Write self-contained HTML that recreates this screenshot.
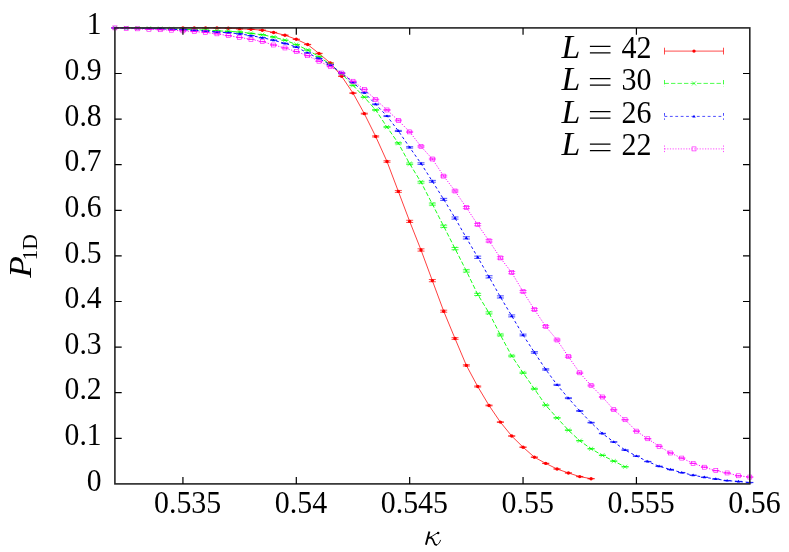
<!DOCTYPE html>
<html><head><meta charset="utf-8"><title>P1D vs kappa</title>
<style>
html,body{margin:0;padding:0;background:#fff;}
body{width:789px;height:552px;overflow:hidden;}
svg{display:block;will-change:transform;}
text{font-family:"Liberation Serif",serif;fill:#000;}
</style></head><body>
<svg width="789" height="552" viewBox="0 0 789 552">
<rect x="0" y="0" width="789" height="552" fill="#fff"/>

<text x="101.6" y="490.50" font-size="31" text-anchor="end" textLength="14.8" lengthAdjust="spacingAndGlyphs">0</text>
<text x="101.6" y="444.90" font-size="31" text-anchor="end" textLength="37.0" lengthAdjust="spacingAndGlyphs">0.1</text>
<text x="101.6" y="399.30" font-size="31" text-anchor="end" textLength="37.0" lengthAdjust="spacingAndGlyphs">0.2</text>
<text x="101.6" y="353.70" font-size="31" text-anchor="end" textLength="37.0" lengthAdjust="spacingAndGlyphs">0.3</text>
<text x="101.6" y="308.10" font-size="31" text-anchor="end" textLength="37.0" lengthAdjust="spacingAndGlyphs">0.4</text>
<text x="101.6" y="262.50" font-size="31" text-anchor="end" textLength="37.0" lengthAdjust="spacingAndGlyphs">0.5</text>
<text x="101.6" y="216.90" font-size="31" text-anchor="end" textLength="37.0" lengthAdjust="spacingAndGlyphs">0.6</text>
<text x="101.6" y="171.30" font-size="31" text-anchor="end" textLength="37.0" lengthAdjust="spacingAndGlyphs">0.7</text>
<text x="101.6" y="125.70" font-size="31" text-anchor="end" textLength="37.0" lengthAdjust="spacingAndGlyphs">0.8</text>
<text x="101.6" y="80.10" font-size="31" text-anchor="end" textLength="37.0" lengthAdjust="spacingAndGlyphs">0.9</text>
<text x="101.6" y="33.70" font-size="31" text-anchor="end" textLength="14.8" lengthAdjust="spacingAndGlyphs">1</text>
<text x="187.62" y="512.95" font-size="31" text-anchor="middle" textLength="67.2" lengthAdjust="spacingAndGlyphs">0.535</text>
<text x="301.00" y="512.95" font-size="31" text-anchor="middle" textLength="52.4" lengthAdjust="spacingAndGlyphs">0.54</text>
<text x="414.37" y="512.95" font-size="31" text-anchor="middle" textLength="67.2" lengthAdjust="spacingAndGlyphs">0.545</text>
<text x="527.75" y="512.95" font-size="31" text-anchor="middle" textLength="52.4" lengthAdjust="spacingAndGlyphs">0.55</text>
<text x="641.12" y="512.95" font-size="31" text-anchor="middle" textLength="67.2" lengthAdjust="spacingAndGlyphs">0.555</text>
<text x="754.50" y="512.95" font-size="31" text-anchor="middle" textLength="52.4" lengthAdjust="spacingAndGlyphs">0.56</text>
<g fill="none" stroke="#000" stroke-linecap="round" stroke-linejoin="round"><path d="M429.4 531.5L425.9 544.7" stroke-width="1.9" stroke-linecap="butt"/><path d="M427.9 538.7C431 537.3 434.2 534.6 437.4 532.9" stroke-width="0.9"/><path d="M429.3 537.7C432.4 537.4 433.2 539.6 433.9 542.2C434.4 544.0 435.0 544.9 436.2 545.0" stroke-width="1.7"/><path d="M436.2 545.0C438.2 545.0 439.7 542.8 440.5 540.3" stroke-width="0.9"/></g><circle cx="438.2" cy="532.9" r="1.25" fill="#000"/>
<g transform="translate(31.1,277.8) rotate(-90)"><text x="0" y="0" font-size="32" font-style="italic" transform="scale(1.11,1)">P</text><text x="17.3" y="5.7" font-size="21.6">1D</text></g>
<text x="561.6" y="57.60" font-size="33.8" font-style="italic">L</text>
<path d="M589.9 46.40H610.5M589.9 52.90H610.5" stroke="#000" stroke-width="1.3" fill="none"/>
<text x="621.6" y="57.60" font-size="31" textLength="30" lengthAdjust="spacingAndGlyphs">42</text>
<path d="M664.5 51.1H723.5M664.5 47.7v6.8M723.5 47.7v6.8" stroke="#ff0000" stroke-width="0.7" fill="none"/>
<circle cx="694.00" cy="51.10" r="1.7" fill="#ff0000"/>
<text x="561.6" y="89.90" font-size="33.8" font-style="italic">L</text>
<path d="M589.9 78.70H610.5M589.9 85.20H610.5" stroke="#000" stroke-width="1.3" fill="none"/>
<text x="621.6" y="89.90" font-size="31" textLength="30" lengthAdjust="spacingAndGlyphs">30</text>
<path d="M664.5 83.4H723.5M664.5 80.0v6.8M723.5 80.0v6.8" stroke="#00ff00" stroke-width="0.7" fill="none" stroke-dasharray="4.4 2.1"/>
<path d="M691.90 81.30L696.10 85.50M691.90 85.50L696.10 81.30" stroke="#00ff00" stroke-width="0.6" fill="none"/>
<text x="561.6" y="122.90" font-size="33.8" font-style="italic">L</text>
<path d="M589.9 111.70H610.5M589.9 118.20H610.5" stroke="#000" stroke-width="1.3" fill="none"/>
<text x="621.6" y="122.90" font-size="31" textLength="30" lengthAdjust="spacingAndGlyphs">26</text>
<path d="M664.5 116.4H723.5M664.5 113.0v6.8M723.5 113.0v6.8" stroke="#0000ff" stroke-width="0.7" fill="none" stroke-dasharray="2.8 2.6"/>
<path d="M694.00 114.70L695.70 117.40L692.30 117.40Z" fill="#0000ff"/>
<text x="561.6" y="155.40" font-size="33.8" font-style="italic">L</text>
<path d="M589.9 144.20H610.5M589.9 150.70H610.5" stroke="#000" stroke-width="1.3" fill="none"/>
<text x="621.6" y="155.40" font-size="31" textLength="30" lengthAdjust="spacingAndGlyphs">22</text>
<path d="M664.5 148.9H723.5M664.5 145.5v6.8M723.5 145.5v6.8" stroke="#ff00ff" stroke-width="0.7" fill="none" stroke-dasharray="1.2 1.5"/>
<rect x="692.00" y="146.90" width="4.0" height="4.0" fill="none" stroke="#ff00ff" stroke-width="0.6"/>
<polyline points="182.93,27.90 194.26,27.90 205.60,27.90 216.94,27.90 228.28,28.22 239.61,28.81 250.95,29.27 262.29,30.18 273.62,32.46 284.96,35.20 296.30,39.30 307.64,44.54 318.98,53.44 330.31,63.01 341.65,76.24 352.99,93.11 364.32,113.63 375.66,136.43 387.00,161.51 398.34,191.42 409.67,221.38 421.01,249.97 432.35,280.62 443.69,311.21 455.02,338.53 466.36,365.39 477.70,386.50 489.04,405.47 500.38,422.11 511.71,436.02 523.05,447.19 534.39,457.18 545.73,463.38 557.06,468.99 568.40,472.96 579.74,476.60 591.08,478.70" fill="none" stroke="#ff0000" stroke-width="0.75"/>
<path d="M182.93 27.75L182.93 28.05M179.43 27.75L186.43 27.75M179.43 28.05L186.43 28.05" stroke="#ff0000" stroke-width="0.7" fill="none"/>
<circle cx="182.93" cy="27.90" r="1.7" fill="#ff0000"/>
<path d="M194.26 27.75L194.26 28.05M190.76 27.75L197.76 27.75M190.76 28.05L197.76 28.05" stroke="#ff0000" stroke-width="0.7" fill="none"/>
<circle cx="194.26" cy="27.90" r="1.7" fill="#ff0000"/>
<path d="M205.60 27.75L205.60 28.05M202.10 27.75L209.10 27.75M202.10 28.05L209.10 28.05" stroke="#ff0000" stroke-width="0.7" fill="none"/>
<circle cx="205.60" cy="27.90" r="1.7" fill="#ff0000"/>
<path d="M216.94 27.75L216.94 28.05M213.44 27.75L220.44 27.75M213.44 28.05L220.44 28.05" stroke="#ff0000" stroke-width="0.7" fill="none"/>
<circle cx="216.94" cy="27.90" r="1.7" fill="#ff0000"/>
<path d="M228.28 28.07L228.28 28.37M224.78 28.07L231.78 28.07M224.78 28.37L231.78 28.37" stroke="#ff0000" stroke-width="0.7" fill="none"/>
<circle cx="228.28" cy="28.22" r="1.7" fill="#ff0000"/>
<path d="M239.61 28.66L239.61 28.96M236.11 28.66L243.11 28.66M236.11 28.96L243.11 28.96" stroke="#ff0000" stroke-width="0.7" fill="none"/>
<circle cx="239.61" cy="28.81" r="1.7" fill="#ff0000"/>
<path d="M250.95 29.12L250.95 29.42M247.45 29.12L254.45 29.12M247.45 29.42L254.45 29.42" stroke="#ff0000" stroke-width="0.7" fill="none"/>
<circle cx="250.95" cy="29.27" r="1.7" fill="#ff0000"/>
<path d="M262.29 30.03L262.29 30.33M258.79 30.03L265.79 30.03M258.79 30.33L265.79 30.33" stroke="#ff0000" stroke-width="0.7" fill="none"/>
<circle cx="262.29" cy="30.18" r="1.7" fill="#ff0000"/>
<path d="M273.62 32.31L273.62 32.61M270.12 32.31L277.12 32.31M270.12 32.61L277.12 32.61" stroke="#ff0000" stroke-width="0.7" fill="none"/>
<circle cx="273.62" cy="32.46" r="1.7" fill="#ff0000"/>
<path d="M284.96 35.05L284.96 35.35M281.46 35.05L288.46 35.05M281.46 35.35L288.46 35.35" stroke="#ff0000" stroke-width="0.7" fill="none"/>
<circle cx="284.96" cy="35.20" r="1.7" fill="#ff0000"/>
<path d="M296.30 39.15L296.30 39.45M292.80 39.15L299.80 39.15M292.80 39.45L299.80 39.45" stroke="#ff0000" stroke-width="0.7" fill="none"/>
<circle cx="296.30" cy="39.30" r="1.7" fill="#ff0000"/>
<path d="M307.64 44.39L307.64 44.70M304.14 44.39L311.14 44.39M304.14 44.70L311.14 44.70" stroke="#ff0000" stroke-width="0.7" fill="none"/>
<circle cx="307.64" cy="44.54" r="1.7" fill="#ff0000"/>
<path d="M318.98 53.27L318.98 53.61M315.48 53.27L322.48 53.27M315.48 53.61L322.48 53.61" stroke="#ff0000" stroke-width="0.7" fill="none"/>
<circle cx="318.98" cy="53.44" r="1.7" fill="#ff0000"/>
<path d="M330.31 62.82L330.31 63.21M326.81 62.82L333.81 62.82M326.81 63.21L333.81 63.21" stroke="#ff0000" stroke-width="0.7" fill="none"/>
<circle cx="330.31" cy="63.01" r="1.7" fill="#ff0000"/>
<path d="M341.65 76.00L341.65 76.47M338.15 76.00L345.15 76.00M338.15 76.47L345.15 76.47" stroke="#ff0000" stroke-width="0.7" fill="none"/>
<circle cx="341.65" cy="76.24" r="1.7" fill="#ff0000"/>
<path d="M352.99 92.79L352.99 93.43M349.49 92.79L356.49 92.79M349.49 93.43L356.49 93.43" stroke="#ff0000" stroke-width="0.7" fill="none"/>
<circle cx="352.99" cy="93.11" r="1.7" fill="#ff0000"/>
<path d="M364.32 113.19L364.32 114.07M360.82 113.19L367.82 113.19M360.82 114.07L367.82 114.07" stroke="#ff0000" stroke-width="0.7" fill="none"/>
<circle cx="364.32" cy="113.63" r="1.7" fill="#ff0000"/>
<path d="M375.66 135.83L375.66 137.03M372.16 135.83L379.16 135.83M372.16 137.03L379.16 137.03" stroke="#ff0000" stroke-width="0.7" fill="none"/>
<circle cx="375.66" cy="136.43" r="1.7" fill="#ff0000"/>
<path d="M387.00 160.73L387.00 162.28M383.50 160.73L390.50 160.73M383.50 162.28L390.50 162.28" stroke="#ff0000" stroke-width="0.7" fill="none"/>
<circle cx="387.00" cy="161.51" r="1.7" fill="#ff0000"/>
<path d="M398.34 190.46L398.34 192.38M394.84 190.46L401.84 190.46M394.84 192.38L401.84 192.38" stroke="#ff0000" stroke-width="0.7" fill="none"/>
<circle cx="398.34" cy="191.42" r="1.7" fill="#ff0000"/>
<path d="M409.67 220.29L409.67 222.47M406.17 220.29L413.17 220.29M406.17 222.47L413.17 222.47" stroke="#ff0000" stroke-width="0.7" fill="none"/>
<circle cx="409.67" cy="221.38" r="1.7" fill="#ff0000"/>
<path d="M421.01 248.82L421.01 251.12M417.51 248.82L424.51 248.82M417.51 251.12L424.51 251.12" stroke="#ff0000" stroke-width="0.7" fill="none"/>
<circle cx="421.01" cy="249.97" r="1.7" fill="#ff0000"/>
<path d="M432.35 279.49L432.35 281.74M428.85 279.49L435.85 279.49M428.85 281.74L435.85 281.74" stroke="#ff0000" stroke-width="0.7" fill="none"/>
<circle cx="432.35" cy="280.62" r="1.7" fill="#ff0000"/>
<path d="M443.69 310.20L443.69 312.22M440.19 310.20L447.19 310.20M440.19 312.22L447.19 312.22" stroke="#ff0000" stroke-width="0.7" fill="none"/>
<circle cx="443.69" cy="311.21" r="1.7" fill="#ff0000"/>
<path d="M455.02 337.67L455.02 339.38M451.52 337.67L458.52 337.67M451.52 339.38L458.52 339.38" stroke="#ff0000" stroke-width="0.7" fill="none"/>
<circle cx="455.02" cy="338.53" r="1.7" fill="#ff0000"/>
<path d="M466.36 364.72L466.36 366.05M462.86 364.72L469.86 364.72M462.86 366.05L469.86 366.05" stroke="#ff0000" stroke-width="0.7" fill="none"/>
<circle cx="466.36" cy="365.39" r="1.7" fill="#ff0000"/>
<path d="M477.70 385.98L477.70 387.02M474.20 385.98L481.20 385.98M474.20 387.02L481.20 387.02" stroke="#ff0000" stroke-width="0.7" fill="none"/>
<circle cx="477.70" cy="386.50" r="1.7" fill="#ff0000"/>
<path d="M489.04 405.07L489.04 405.86M485.54 405.07L492.54 405.07M485.54 405.86L492.54 405.86" stroke="#ff0000" stroke-width="0.7" fill="none"/>
<circle cx="489.04" cy="405.47" r="1.7" fill="#ff0000"/>
<path d="M500.38 421.81L500.38 422.41M496.88 421.81L503.88 421.81M496.88 422.41L503.88 422.41" stroke="#ff0000" stroke-width="0.7" fill="none"/>
<circle cx="500.38" cy="422.11" r="1.7" fill="#ff0000"/>
<path d="M511.71 435.78L511.71 436.26M508.21 435.78L515.21 435.78M508.21 436.26L515.21 436.26" stroke="#ff0000" stroke-width="0.7" fill="none"/>
<circle cx="511.71" cy="436.02" r="1.7" fill="#ff0000"/>
<path d="M523.05 446.99L523.05 447.39M519.55 446.99L526.55 446.99M519.55 447.39L526.55 447.39" stroke="#ff0000" stroke-width="0.7" fill="none"/>
<circle cx="523.05" cy="447.19" r="1.7" fill="#ff0000"/>
<path d="M534.39 457.01L534.39 457.35M530.89 457.01L537.89 457.01M530.89 457.35L537.89 457.35" stroke="#ff0000" stroke-width="0.7" fill="none"/>
<circle cx="534.39" cy="457.18" r="1.7" fill="#ff0000"/>
<path d="M545.73 463.22L545.73 463.54M542.23 463.22L549.23 463.22M542.23 463.54L549.23 463.54" stroke="#ff0000" stroke-width="0.7" fill="none"/>
<circle cx="545.73" cy="463.38" r="1.7" fill="#ff0000"/>
<path d="M557.06 468.83L557.06 469.14M553.56 468.83L560.56 468.83M553.56 469.14L560.56 469.14" stroke="#ff0000" stroke-width="0.7" fill="none"/>
<circle cx="557.06" cy="468.99" r="1.7" fill="#ff0000"/>
<path d="M568.40 472.80L568.40 473.11M564.90 472.80L571.90 472.80M564.90 473.11L571.90 473.11" stroke="#ff0000" stroke-width="0.7" fill="none"/>
<circle cx="568.40" cy="472.96" r="1.7" fill="#ff0000"/>
<path d="M579.74 476.45L579.74 476.75M576.24 476.45L583.24 476.45M576.24 476.75L583.24 476.75" stroke="#ff0000" stroke-width="0.7" fill="none"/>
<circle cx="579.74" cy="476.60" r="1.7" fill="#ff0000"/>
<path d="M591.08 478.55L591.08 478.85M587.58 478.55L594.58 478.55M587.58 478.85L594.58 478.85" stroke="#ff0000" stroke-width="0.7" fill="none"/>
<circle cx="591.08" cy="478.70" r="1.7" fill="#ff0000"/>
<polyline points="114.90,27.90 126.24,27.99 137.58,28.13 148.91,28.36 160.25,28.58 171.59,28.81 182.93,29.27 194.26,29.72 205.60,30.18 216.94,30.82 228.28,31.32 239.61,32.00 250.95,33.37 262.29,34.74 273.62,37.02 284.96,40.21 296.30,44.54 307.64,50.02 318.98,56.63 330.31,64.38 341.65,73.73 352.99,85.36 364.32,97.21 375.66,109.98 387.00,127.08 398.34,143.27 409.67,163.79 421.01,182.21 432.35,204.10 443.69,226.26 455.02,248.60 466.36,270.95 477.70,294.43 489.04,312.90 500.38,334.97 511.71,355.99 523.05,372.82 534.39,388.87 545.73,405.24 557.06,417.87 568.40,430.18 579.74,440.72 591.08,448.79 602.41,455.31 613.75,461.10 625.09,466.80" fill="none" stroke="#00ff00" stroke-width="0.9" stroke-dasharray="4.4 2.1"/>
<path d="M114.90 27.75L114.90 28.05M111.40 27.75L118.40 27.75M111.40 28.05L118.40 28.05" stroke="#00ff00" stroke-width="0.7" fill="none"/>
<path d="M112.80 25.80L117.00 30.00M112.80 30.00L117.00 25.80" stroke="#00ff00" stroke-width="0.6" fill="none"/>
<path d="M126.24 27.84L126.24 28.14M122.74 27.84L129.74 27.84M122.74 28.14L129.74 28.14" stroke="#00ff00" stroke-width="0.7" fill="none"/>
<path d="M124.14 25.89L128.34 30.09M124.14 30.09L128.34 25.89" stroke="#00ff00" stroke-width="0.6" fill="none"/>
<path d="M137.58 27.98L137.58 28.28M134.08 27.98L141.08 27.98M134.08 28.28L141.08 28.28" stroke="#00ff00" stroke-width="0.7" fill="none"/>
<path d="M135.48 26.03L139.68 30.23M135.48 30.23L139.68 26.03" stroke="#00ff00" stroke-width="0.6" fill="none"/>
<path d="M148.91 28.21L148.91 28.51M145.41 28.21L152.41 28.21M145.41 28.51L152.41 28.51" stroke="#00ff00" stroke-width="0.7" fill="none"/>
<path d="M146.81 26.26L151.01 30.46M146.81 30.46L151.01 26.26" stroke="#00ff00" stroke-width="0.6" fill="none"/>
<path d="M160.25 28.43L160.25 28.73M156.75 28.43L163.75 28.43M156.75 28.73L163.75 28.73" stroke="#00ff00" stroke-width="0.7" fill="none"/>
<path d="M158.15 26.48L162.35 30.68M158.15 30.68L162.35 26.48" stroke="#00ff00" stroke-width="0.6" fill="none"/>
<path d="M171.59 28.66L171.59 28.96M168.09 28.66L175.09 28.66M168.09 28.96L175.09 28.96" stroke="#00ff00" stroke-width="0.7" fill="none"/>
<path d="M169.49 26.71L173.69 30.91M169.49 30.91L173.69 26.71" stroke="#00ff00" stroke-width="0.6" fill="none"/>
<path d="M182.93 29.12L182.93 29.42M179.43 29.12L186.43 29.12M179.43 29.42L186.43 29.42" stroke="#00ff00" stroke-width="0.7" fill="none"/>
<path d="M180.83 27.17L185.03 31.37M180.83 31.37L185.03 27.17" stroke="#00ff00" stroke-width="0.6" fill="none"/>
<path d="M194.26 29.57L194.26 29.87M190.76 29.57L197.76 29.57M190.76 29.87L197.76 29.87" stroke="#00ff00" stroke-width="0.7" fill="none"/>
<path d="M192.16 27.62L196.36 31.82M192.16 31.82L196.36 27.62" stroke="#00ff00" stroke-width="0.6" fill="none"/>
<path d="M205.60 30.03L205.60 30.33M202.10 30.03L209.10 30.03M202.10 30.33L209.10 30.33" stroke="#00ff00" stroke-width="0.7" fill="none"/>
<path d="M203.50 28.08L207.70 32.28M203.50 32.28L207.70 28.08" stroke="#00ff00" stroke-width="0.6" fill="none"/>
<path d="M216.94 30.67L216.94 30.97M213.44 30.67L220.44 30.67M213.44 30.97L220.44 30.97" stroke="#00ff00" stroke-width="0.7" fill="none"/>
<path d="M214.84 28.72L219.04 32.92M214.84 32.92L219.04 28.72" stroke="#00ff00" stroke-width="0.6" fill="none"/>
<path d="M228.28 31.17L228.28 31.47M224.78 31.17L231.78 31.17M224.78 31.47L231.78 31.47" stroke="#00ff00" stroke-width="0.7" fill="none"/>
<path d="M226.18 29.22L230.38 33.42M226.18 33.42L230.38 29.22" stroke="#00ff00" stroke-width="0.6" fill="none"/>
<path d="M239.61 31.85L239.61 32.15M236.11 31.85L243.11 31.85M236.11 32.15L243.11 32.15" stroke="#00ff00" stroke-width="0.7" fill="none"/>
<path d="M237.51 29.90L241.71 34.10M237.51 34.10L241.71 29.90" stroke="#00ff00" stroke-width="0.6" fill="none"/>
<path d="M250.95 33.22L250.95 33.52M247.45 33.22L254.45 33.22M247.45 33.52L254.45 33.52" stroke="#00ff00" stroke-width="0.7" fill="none"/>
<path d="M248.85 31.27L253.05 35.47M248.85 35.47L253.05 31.27" stroke="#00ff00" stroke-width="0.6" fill="none"/>
<path d="M262.29 34.59L262.29 34.89M258.79 34.59L265.79 34.59M258.79 34.89L265.79 34.89" stroke="#00ff00" stroke-width="0.7" fill="none"/>
<path d="M260.19 32.64L264.39 36.84M260.19 36.84L264.39 32.64" stroke="#00ff00" stroke-width="0.6" fill="none"/>
<path d="M273.62 36.87L273.62 37.17M270.12 36.87L277.12 36.87M270.12 37.17L277.12 37.17" stroke="#00ff00" stroke-width="0.7" fill="none"/>
<path d="M271.52 34.92L275.73 39.12M271.52 39.12L275.73 34.92" stroke="#00ff00" stroke-width="0.6" fill="none"/>
<path d="M284.96 40.06L284.96 40.37M281.46 40.06L288.46 40.06M281.46 40.37L288.46 40.37" stroke="#00ff00" stroke-width="0.7" fill="none"/>
<path d="M282.86 38.11L287.06 42.31M282.86 42.31L287.06 38.11" stroke="#00ff00" stroke-width="0.6" fill="none"/>
<path d="M296.30 44.39L296.30 44.70M292.80 44.39L299.80 44.39M292.80 44.70L299.80 44.70" stroke="#00ff00" stroke-width="0.7" fill="none"/>
<path d="M294.20 42.44L298.40 46.64M294.20 46.64L298.40 42.44" stroke="#00ff00" stroke-width="0.6" fill="none"/>
<path d="M307.64 49.85L307.64 50.18M304.14 49.85L311.14 49.85M304.14 50.18L311.14 50.18" stroke="#00ff00" stroke-width="0.7" fill="none"/>
<path d="M305.54 47.92L309.74 52.12M305.54 52.12L309.74 47.92" stroke="#00ff00" stroke-width="0.6" fill="none"/>
<path d="M318.98 56.45L318.98 56.81M315.48 56.45L322.48 56.45M315.48 56.81L322.48 56.81" stroke="#00ff00" stroke-width="0.7" fill="none"/>
<path d="M316.88 54.53L321.08 58.73M316.88 58.73L321.08 54.53" stroke="#00ff00" stroke-width="0.6" fill="none"/>
<path d="M330.31 64.18L330.31 64.58M326.81 64.18L333.81 64.18M326.81 64.58L333.81 64.58" stroke="#00ff00" stroke-width="0.7" fill="none"/>
<path d="M328.21 62.28L332.41 66.48M328.21 66.48L332.41 62.28" stroke="#00ff00" stroke-width="0.6" fill="none"/>
<path d="M341.65 73.50L341.65 73.96M338.15 73.50L345.15 73.50M338.15 73.96L345.15 73.96" stroke="#00ff00" stroke-width="0.7" fill="none"/>
<path d="M339.55 71.63L343.75 75.83M339.55 75.83L343.75 71.63" stroke="#00ff00" stroke-width="0.6" fill="none"/>
<path d="M352.99 85.08L352.99 85.63M349.49 85.08L356.49 85.08M349.49 85.63L356.49 85.63" stroke="#00ff00" stroke-width="0.7" fill="none"/>
<path d="M350.89 83.26L355.09 87.46M350.89 87.46L355.09 83.26" stroke="#00ff00" stroke-width="0.6" fill="none"/>
<path d="M364.32 96.87L364.32 97.55M360.82 96.87L367.82 96.87M360.82 97.55L367.82 97.55" stroke="#00ff00" stroke-width="0.7" fill="none"/>
<path d="M362.22 95.11L366.43 99.31M362.22 99.31L366.43 95.11" stroke="#00ff00" stroke-width="0.6" fill="none"/>
<path d="M375.66 109.56L375.66 110.40M372.16 109.56L379.16 109.56M372.16 110.40L379.16 110.40" stroke="#00ff00" stroke-width="0.7" fill="none"/>
<path d="M373.56 107.88L377.76 112.08M373.56 112.08L377.76 107.88" stroke="#00ff00" stroke-width="0.6" fill="none"/>
<path d="M387.00 126.55L387.00 127.61M383.50 126.55L390.50 126.55M383.50 127.61L390.50 127.61" stroke="#00ff00" stroke-width="0.7" fill="none"/>
<path d="M384.90 124.98L389.10 129.18M384.90 129.18L389.10 124.98" stroke="#00ff00" stroke-width="0.6" fill="none"/>
<path d="M398.34 142.62L398.34 143.91M394.84 142.62L401.84 142.62M394.84 143.91L401.84 143.91" stroke="#00ff00" stroke-width="0.7" fill="none"/>
<path d="M396.24 141.17L400.44 145.37M396.24 145.37L400.44 141.17" stroke="#00ff00" stroke-width="0.6" fill="none"/>
<path d="M409.67 163.00L409.67 164.58M406.17 163.00L413.17 163.00M406.17 164.58L413.17 164.58" stroke="#00ff00" stroke-width="0.7" fill="none"/>
<path d="M407.57 161.69L411.77 165.89M407.57 165.89L411.77 161.69" stroke="#00ff00" stroke-width="0.6" fill="none"/>
<path d="M421.01 181.30L421.01 183.12M417.51 181.30L424.51 181.30M417.51 183.12L424.51 183.12" stroke="#00ff00" stroke-width="0.7" fill="none"/>
<path d="M418.91 180.11L423.11 184.31M418.91 184.31L423.11 180.11" stroke="#00ff00" stroke-width="0.6" fill="none"/>
<path d="M432.35 203.07L432.35 205.12M428.85 203.07L435.85 203.07M428.85 205.12L435.85 205.12" stroke="#00ff00" stroke-width="0.7" fill="none"/>
<path d="M430.25 202.00L434.45 206.20M430.25 206.20L434.45 202.00" stroke="#00ff00" stroke-width="0.6" fill="none"/>
<path d="M443.69 225.15L443.69 227.37M440.19 225.15L447.19 225.15M440.19 227.37L447.19 227.37" stroke="#00ff00" stroke-width="0.7" fill="none"/>
<path d="M441.59 224.16L445.79 228.36M441.59 228.36L445.79 224.16" stroke="#00ff00" stroke-width="0.6" fill="none"/>
<path d="M455.02 247.46L455.02 249.75M451.52 247.46L458.52 247.46M451.52 249.75L458.52 249.75" stroke="#00ff00" stroke-width="0.7" fill="none"/>
<path d="M452.92 246.50L457.12 250.70M452.92 250.70L457.12 246.50" stroke="#00ff00" stroke-width="0.6" fill="none"/>
<path d="M466.36 269.81L466.36 272.09M462.86 269.81L469.86 269.81M462.86 272.09L469.86 272.09" stroke="#00ff00" stroke-width="0.7" fill="none"/>
<path d="M464.26 268.85L468.46 273.05M464.26 273.05L468.46 268.85" stroke="#00ff00" stroke-width="0.6" fill="none"/>
<path d="M477.70 293.35L477.70 295.51M474.20 293.35L481.20 293.35M474.20 295.51L481.20 295.51" stroke="#00ff00" stroke-width="0.7" fill="none"/>
<path d="M475.60 292.33L479.80 296.53M475.60 296.53L479.80 292.33" stroke="#00ff00" stroke-width="0.6" fill="none"/>
<path d="M489.04 311.90L489.04 313.90M485.54 311.90L492.54 311.90M485.54 313.90L492.54 313.90" stroke="#00ff00" stroke-width="0.7" fill="none"/>
<path d="M486.94 310.80L491.14 315.00M486.94 315.00L491.14 310.80" stroke="#00ff00" stroke-width="0.6" fill="none"/>
<path d="M500.38 334.09L500.38 335.85M496.88 334.09L503.88 334.09M496.88 335.85L503.88 335.85" stroke="#00ff00" stroke-width="0.7" fill="none"/>
<path d="M498.27 332.87L502.48 337.07M498.27 337.07L502.48 332.87" stroke="#00ff00" stroke-width="0.6" fill="none"/>
<path d="M511.71 355.26L511.71 356.73M508.21 355.26L515.21 355.26M508.21 356.73L515.21 356.73" stroke="#00ff00" stroke-width="0.7" fill="none"/>
<path d="M509.61 353.89L513.81 358.09M509.61 358.09L513.81 353.89" stroke="#00ff00" stroke-width="0.6" fill="none"/>
<path d="M523.05 372.20L523.05 373.43M519.55 372.20L526.55 372.20M519.55 373.43L526.55 373.43" stroke="#00ff00" stroke-width="0.7" fill="none"/>
<path d="M520.95 370.72L525.15 374.92M520.95 374.92L525.15 370.72" stroke="#00ff00" stroke-width="0.6" fill="none"/>
<path d="M534.39 388.37L534.39 389.37M530.89 388.37L537.89 388.37M530.89 389.37L537.89 389.37" stroke="#00ff00" stroke-width="0.7" fill="none"/>
<path d="M532.29 386.77L536.49 390.97M532.29 390.97L536.49 386.77" stroke="#00ff00" stroke-width="0.6" fill="none"/>
<path d="M545.73 404.84L545.73 405.64M542.23 404.84L549.23 404.84M542.23 405.64L549.23 405.64" stroke="#00ff00" stroke-width="0.7" fill="none"/>
<path d="M543.62 403.14L547.83 407.34M543.62 407.34L547.83 403.14" stroke="#00ff00" stroke-width="0.6" fill="none"/>
<path d="M557.06 417.55L557.06 418.19M553.56 417.55L560.56 417.55M553.56 418.19L560.56 418.19" stroke="#00ff00" stroke-width="0.7" fill="none"/>
<path d="M554.96 415.77L559.16 419.97M554.96 419.97L559.16 415.77" stroke="#00ff00" stroke-width="0.6" fill="none"/>
<path d="M568.40 429.92L568.40 430.44M564.90 429.92L571.90 429.92M564.90 430.44L571.90 430.44" stroke="#00ff00" stroke-width="0.7" fill="none"/>
<path d="M566.30 428.08L570.50 432.28M566.30 432.28L570.50 428.08" stroke="#00ff00" stroke-width="0.6" fill="none"/>
<path d="M579.74 440.50L579.74 440.94M576.24 440.50L583.24 440.50M576.24 440.94L583.24 440.94" stroke="#00ff00" stroke-width="0.7" fill="none"/>
<path d="M577.64 438.62L581.84 442.82M577.64 442.82L581.84 438.62" stroke="#00ff00" stroke-width="0.6" fill="none"/>
<path d="M591.08 448.59L591.08 448.98M587.58 448.59L594.58 448.59M587.58 448.98L594.58 448.98" stroke="#00ff00" stroke-width="0.7" fill="none"/>
<path d="M588.98 446.69L593.18 450.89M588.98 450.89L593.18 446.69" stroke="#00ff00" stroke-width="0.6" fill="none"/>
<path d="M602.41 455.13L602.41 455.49M598.91 455.13L605.91 455.13M598.91 455.49L605.91 455.49" stroke="#00ff00" stroke-width="0.7" fill="none"/>
<path d="M600.31 453.21L604.51 457.41M600.31 457.41L604.51 453.21" stroke="#00ff00" stroke-width="0.6" fill="none"/>
<path d="M613.75 460.93L613.75 461.27M610.25 460.93L617.25 460.93M610.25 461.27L617.25 461.27" stroke="#00ff00" stroke-width="0.7" fill="none"/>
<path d="M611.65 459.00L615.85 463.20M611.65 463.20L615.85 459.00" stroke="#00ff00" stroke-width="0.6" fill="none"/>
<path d="M625.09 466.64L625.09 466.96M621.59 466.64L628.59 466.64M621.59 466.96L628.59 466.96" stroke="#00ff00" stroke-width="0.7" fill="none"/>
<path d="M622.99 464.70L627.19 468.90M622.99 468.90L627.19 464.70" stroke="#00ff00" stroke-width="0.6" fill="none"/>
<polyline points="114.90,27.90 126.24,28.13 137.58,28.36 148.91,28.58 160.25,28.81 171.59,29.27 182.93,29.72 194.26,30.41 205.60,31.09 216.94,32.00 228.28,32.69 239.61,33.83 250.95,35.65 262.29,37.70 273.62,40.21 284.96,43.40 296.30,47.05 307.64,52.98 318.98,58.45 330.31,64.84 341.65,73.04 352.99,82.39 364.32,92.65 375.66,104.28 387.00,116.09 398.34,130.96 409.67,147.37 421.01,163.56 432.35,181.30 443.69,199.36 455.02,218.05 466.36,237.89 477.70,257.27 489.04,276.88 500.38,296.94 511.71,315.91 523.05,335.02 534.39,352.39 545.73,369.44 557.06,384.86 568.40,398.17 579.74,410.94 591.08,422.61 602.41,433.51 613.75,441.95 625.09,450.06 636.42,456.08 647.76,461.56 659.10,466.30 670.44,469.49 681.77,472.59 693.11,475.24 704.45,477.29 715.79,479.02 727.12,480.62 738.46,481.48 749.80,482.53" fill="none" stroke="#0000ff" stroke-width="0.95" stroke-dasharray="2.8 2.6"/>
<path d="M114.90 27.75L114.90 28.05M111.40 27.75L118.40 27.75M111.40 28.05L118.40 28.05" stroke="#0000ff" stroke-width="0.7" fill="none"/>
<path d="M114.90 26.20L116.60 28.90L113.20 28.90Z" fill="#0000ff"/>
<path d="M126.24 27.98L126.24 28.28M122.74 27.98L129.74 27.98M122.74 28.28L129.74 28.28" stroke="#0000ff" stroke-width="0.7" fill="none"/>
<path d="M126.24 26.43L127.94 29.13L124.54 29.13Z" fill="#0000ff"/>
<path d="M137.58 28.21L137.58 28.51M134.08 28.21L141.08 28.21M134.08 28.51L141.08 28.51" stroke="#0000ff" stroke-width="0.7" fill="none"/>
<path d="M137.58 26.66L139.28 29.36L135.88 29.36Z" fill="#0000ff"/>
<path d="M148.91 28.43L148.91 28.73M145.41 28.43L152.41 28.43M145.41 28.73L152.41 28.73" stroke="#0000ff" stroke-width="0.7" fill="none"/>
<path d="M148.91 26.88L150.61 29.58L147.21 29.58Z" fill="#0000ff"/>
<path d="M160.25 28.66L160.25 28.96M156.75 28.66L163.75 28.66M156.75 28.96L163.75 28.96" stroke="#0000ff" stroke-width="0.7" fill="none"/>
<path d="M160.25 27.11L161.95 29.81L158.55 29.81Z" fill="#0000ff"/>
<path d="M171.59 29.12L171.59 29.42M168.09 29.12L175.09 29.12M168.09 29.42L175.09 29.42" stroke="#0000ff" stroke-width="0.7" fill="none"/>
<path d="M171.59 27.57L173.29 30.27L169.89 30.27Z" fill="#0000ff"/>
<path d="M182.93 29.57L182.93 29.87M179.43 29.57L186.43 29.57M179.43 29.87L186.43 29.87" stroke="#0000ff" stroke-width="0.7" fill="none"/>
<path d="M182.93 28.02L184.62 30.72L181.23 30.72Z" fill="#0000ff"/>
<path d="M194.26 30.26L194.26 30.56M190.76 30.26L197.76 30.26M190.76 30.56L197.76 30.56" stroke="#0000ff" stroke-width="0.7" fill="none"/>
<path d="M194.26 28.71L195.96 31.41L192.56 31.41Z" fill="#0000ff"/>
<path d="M205.60 30.94L205.60 31.24M202.10 30.94L209.10 30.94M202.10 31.24L209.10 31.24" stroke="#0000ff" stroke-width="0.7" fill="none"/>
<path d="M205.60 29.39L207.30 32.09L203.90 32.09Z" fill="#0000ff"/>
<path d="M216.94 31.85L216.94 32.15M213.44 31.85L220.44 31.85M213.44 32.15L220.44 32.15" stroke="#0000ff" stroke-width="0.7" fill="none"/>
<path d="M216.94 30.30L218.64 33.00L215.24 33.00Z" fill="#0000ff"/>
<path d="M228.28 32.54L228.28 32.84M224.78 32.54L231.78 32.54M224.78 32.84L231.78 32.84" stroke="#0000ff" stroke-width="0.7" fill="none"/>
<path d="M228.28 30.99L229.97 33.69L226.58 33.69Z" fill="#0000ff"/>
<path d="M239.61 33.68L239.61 33.98M236.11 33.68L243.11 33.68M236.11 33.98L243.11 33.98" stroke="#0000ff" stroke-width="0.7" fill="none"/>
<path d="M239.61 32.13L241.31 34.83L237.91 34.83Z" fill="#0000ff"/>
<path d="M250.95 35.50L250.95 35.80M247.45 35.50L254.45 35.50M247.45 35.80L254.45 35.80" stroke="#0000ff" stroke-width="0.7" fill="none"/>
<path d="M250.95 33.95L252.65 36.65L249.25 36.65Z" fill="#0000ff"/>
<path d="M262.29 37.55L262.29 37.86M258.79 37.55L265.79 37.55M258.79 37.86L265.79 37.86" stroke="#0000ff" stroke-width="0.7" fill="none"/>
<path d="M262.29 36.00L263.99 38.70L260.59 38.70Z" fill="#0000ff"/>
<path d="M273.62 40.06L273.62 40.37M270.12 40.06L277.12 40.06M270.12 40.37L277.12 40.37" stroke="#0000ff" stroke-width="0.7" fill="none"/>
<path d="M273.62 38.51L275.32 41.21L271.93 41.21Z" fill="#0000ff"/>
<path d="M284.96 43.25L284.96 43.56M281.46 43.25L288.46 43.25M281.46 43.56L288.46 43.56" stroke="#0000ff" stroke-width="0.7" fill="none"/>
<path d="M284.96 41.70L286.66 44.40L283.26 44.40Z" fill="#0000ff"/>
<path d="M296.30 46.89L296.30 47.21M292.80 46.89L299.80 46.89M292.80 47.21L299.80 47.21" stroke="#0000ff" stroke-width="0.7" fill="none"/>
<path d="M296.30 45.35L298.00 48.05L294.60 48.05Z" fill="#0000ff"/>
<path d="M307.64 52.81L307.64 53.15M304.14 52.81L311.14 52.81M304.14 53.15L311.14 53.15" stroke="#0000ff" stroke-width="0.7" fill="none"/>
<path d="M307.64 51.28L309.34 53.98L305.94 53.98Z" fill="#0000ff"/>
<path d="M318.98 58.27L318.98 58.63M315.48 58.27L322.48 58.27M315.48 58.63L322.48 58.63" stroke="#0000ff" stroke-width="0.7" fill="none"/>
<path d="M318.98 56.75L320.68 59.45L317.28 59.45Z" fill="#0000ff"/>
<path d="M330.31 64.64L330.31 65.03M326.81 64.64L333.81 64.64M326.81 65.03L333.81 65.03" stroke="#0000ff" stroke-width="0.7" fill="none"/>
<path d="M330.31 63.14L332.01 65.84L328.61 65.84Z" fill="#0000ff"/>
<path d="M341.65 72.82L341.65 73.27M338.15 72.82L345.15 72.82M338.15 73.27L345.15 73.27" stroke="#0000ff" stroke-width="0.7" fill="none"/>
<path d="M341.65 71.34L343.35 74.04L339.95 74.04Z" fill="#0000ff"/>
<path d="M352.99 82.13L352.99 82.66M349.49 82.13L356.49 82.13M349.49 82.66L356.49 82.66" stroke="#0000ff" stroke-width="0.7" fill="none"/>
<path d="M352.99 80.69L354.69 83.39L351.29 83.39Z" fill="#0000ff"/>
<path d="M364.32 92.34L364.32 92.97M360.82 92.34L367.82 92.34M360.82 92.97L367.82 92.97" stroke="#0000ff" stroke-width="0.7" fill="none"/>
<path d="M364.32 90.95L366.02 93.65L362.62 93.65Z" fill="#0000ff"/>
<path d="M375.66 103.90L375.66 104.66M372.16 103.90L379.16 103.90M372.16 104.66L379.16 104.66" stroke="#0000ff" stroke-width="0.7" fill="none"/>
<path d="M375.66 102.58L377.36 105.28L373.96 105.28Z" fill="#0000ff"/>
<path d="M387.00 115.63L387.00 116.55M383.50 115.63L390.50 115.63M383.50 116.55L390.50 116.55" stroke="#0000ff" stroke-width="0.7" fill="none"/>
<path d="M387.00 114.39L388.70 117.09L385.30 117.09Z" fill="#0000ff"/>
<path d="M398.34 130.40L398.34 131.52M394.84 130.40L401.84 130.40M394.84 131.52L401.84 131.52" stroke="#0000ff" stroke-width="0.7" fill="none"/>
<path d="M398.34 129.26L400.04 131.96L396.64 131.96Z" fill="#0000ff"/>
<path d="M409.67 146.70L409.67 148.05M406.17 146.70L413.17 146.70M406.17 148.05L413.17 148.05" stroke="#0000ff" stroke-width="0.7" fill="none"/>
<path d="M409.67 145.67L411.37 148.37L407.97 148.37Z" fill="#0000ff"/>
<path d="M421.01 162.77L421.01 164.35M417.51 162.77L424.51 162.77M417.51 164.35L424.51 164.35" stroke="#0000ff" stroke-width="0.7" fill="none"/>
<path d="M421.01 161.86L422.71 164.56L419.31 164.56Z" fill="#0000ff"/>
<path d="M432.35 180.39L432.35 182.20M428.85 180.39L435.85 180.39M428.85 182.20L435.85 182.20" stroke="#0000ff" stroke-width="0.7" fill="none"/>
<path d="M432.35 179.60L434.05 182.30L430.65 182.30Z" fill="#0000ff"/>
<path d="M443.69 198.35L443.69 200.36M440.19 198.35L447.19 198.35M440.19 200.36L447.19 200.36" stroke="#0000ff" stroke-width="0.7" fill="none"/>
<path d="M443.69 197.66L445.39 200.36L441.99 200.36Z" fill="#0000ff"/>
<path d="M455.02 216.97L455.02 219.13M451.52 216.97L458.52 216.97M451.52 219.13L458.52 219.13" stroke="#0000ff" stroke-width="0.7" fill="none"/>
<path d="M455.02 216.35L456.72 219.05L453.32 219.05Z" fill="#0000ff"/>
<path d="M466.36 236.75L466.36 239.02M462.86 236.75L469.86 236.75M462.86 239.02L469.86 239.02" stroke="#0000ff" stroke-width="0.7" fill="none"/>
<path d="M466.36 236.19L468.06 238.89L464.66 238.89Z" fill="#0000ff"/>
<path d="M477.70 256.12L477.70 258.42M474.20 256.12L481.20 256.12M474.20 258.42L481.20 258.42" stroke="#0000ff" stroke-width="0.7" fill="none"/>
<path d="M477.70 255.57L479.40 258.27L476.00 258.27Z" fill="#0000ff"/>
<path d="M489.04 275.75L489.04 278.00M485.54 275.75L492.54 275.75M485.54 278.00L492.54 278.00" stroke="#0000ff" stroke-width="0.7" fill="none"/>
<path d="M489.04 275.18L490.74 277.88L487.34 277.88Z" fill="#0000ff"/>
<path d="M500.38 295.87L500.38 298.01M496.88 295.87L503.88 295.87M496.88 298.01L503.88 298.01" stroke="#0000ff" stroke-width="0.7" fill="none"/>
<path d="M500.38 295.24L502.07 297.94L498.68 297.94Z" fill="#0000ff"/>
<path d="M511.71 314.92L511.71 316.90M508.21 314.92L515.21 314.92M508.21 316.90L515.21 316.90" stroke="#0000ff" stroke-width="0.7" fill="none"/>
<path d="M511.71 314.21L513.41 316.91L510.01 316.91Z" fill="#0000ff"/>
<path d="M523.05 334.14L523.05 335.89M519.55 334.14L526.55 334.14M519.55 335.89L526.55 335.89" stroke="#0000ff" stroke-width="0.7" fill="none"/>
<path d="M523.05 333.32L524.75 336.02L521.35 336.02Z" fill="#0000ff"/>
<path d="M534.39 351.63L534.39 353.15M530.89 351.63L537.89 351.63M530.89 353.15L537.89 353.15" stroke="#0000ff" stroke-width="0.7" fill="none"/>
<path d="M534.39 350.69L536.09 353.39L532.69 353.39Z" fill="#0000ff"/>
<path d="M545.73 368.80L545.73 370.08M542.23 368.80L549.23 368.80M542.23 370.08L549.23 370.08" stroke="#0000ff" stroke-width="0.7" fill="none"/>
<path d="M545.73 367.74L547.43 370.44L544.02 370.44Z" fill="#0000ff"/>
<path d="M557.06 384.33L557.06 385.39M553.56 384.33L560.56 384.33M553.56 385.39L560.56 385.39" stroke="#0000ff" stroke-width="0.7" fill="none"/>
<path d="M557.06 383.16L558.76 385.86L555.36 385.86Z" fill="#0000ff"/>
<path d="M568.40 397.73L568.40 398.61M564.90 397.73L571.90 397.73M564.90 398.61L571.90 398.61" stroke="#0000ff" stroke-width="0.7" fill="none"/>
<path d="M568.40 396.47L570.10 399.17L566.70 399.17Z" fill="#0000ff"/>
<path d="M579.74 410.58L579.74 411.30M576.24 410.58L583.24 410.58M576.24 411.30L583.24 411.30" stroke="#0000ff" stroke-width="0.7" fill="none"/>
<path d="M579.74 409.24L581.44 411.94L578.04 411.94Z" fill="#0000ff"/>
<path d="M591.08 422.32L591.08 422.91M587.58 422.32L594.58 422.32M587.58 422.91L594.58 422.91" stroke="#0000ff" stroke-width="0.7" fill="none"/>
<path d="M591.08 420.91L592.78 423.61L589.38 423.61Z" fill="#0000ff"/>
<path d="M602.41 433.27L602.41 433.76M598.91 433.27L605.91 433.27M598.91 433.76L605.91 433.76" stroke="#0000ff" stroke-width="0.7" fill="none"/>
<path d="M602.41 431.81L604.11 434.51L600.71 434.51Z" fill="#0000ff"/>
<path d="M613.75 441.73L613.75 442.16M610.25 441.73L617.25 441.73M610.25 442.16L617.25 442.16" stroke="#0000ff" stroke-width="0.7" fill="none"/>
<path d="M613.75 440.25L615.45 442.95L612.05 442.95Z" fill="#0000ff"/>
<path d="M625.09 449.88L625.09 450.25M621.59 449.88L628.59 449.88M621.59 450.25L628.59 450.25" stroke="#0000ff" stroke-width="0.7" fill="none"/>
<path d="M625.09 448.36L626.79 451.06L623.39 451.06Z" fill="#0000ff"/>
<path d="M636.42 455.91L636.42 456.26M632.92 455.91L639.92 455.91M632.92 456.26L639.92 456.26" stroke="#0000ff" stroke-width="0.7" fill="none"/>
<path d="M636.42 454.38L638.12 457.08L634.72 457.08Z" fill="#0000ff"/>
<path d="M647.76 461.39L647.76 461.72M644.26 461.39L651.26 461.39M644.26 461.72L651.26 461.72" stroke="#0000ff" stroke-width="0.7" fill="none"/>
<path d="M647.76 459.86L649.46 462.56L646.06 462.56Z" fill="#0000ff"/>
<path d="M659.10 466.14L659.10 466.46M655.60 466.14L662.60 466.14M655.60 466.46L662.60 466.46" stroke="#0000ff" stroke-width="0.7" fill="none"/>
<path d="M659.10 464.60L660.80 467.30L657.40 467.30Z" fill="#0000ff"/>
<path d="M670.44 469.34L670.44 469.65M666.94 469.34L673.94 469.34M666.94 469.65L673.94 469.65" stroke="#0000ff" stroke-width="0.7" fill="none"/>
<path d="M670.44 467.79L672.14 470.49L668.74 470.49Z" fill="#0000ff"/>
<path d="M681.77 472.44L681.77 472.74M678.27 472.44L685.27 472.44M678.27 472.74L685.27 472.74" stroke="#0000ff" stroke-width="0.7" fill="none"/>
<path d="M681.77 470.89L683.48 473.59L680.07 473.59Z" fill="#0000ff"/>
<path d="M693.11 475.08L693.11 475.39M689.61 475.08L696.61 475.08M689.61 475.39L696.61 475.39" stroke="#0000ff" stroke-width="0.7" fill="none"/>
<path d="M693.11 473.54L694.81 476.24L691.41 476.24Z" fill="#0000ff"/>
<path d="M704.45 477.14L704.45 477.44M700.95 477.14L707.95 477.14M700.95 477.44L707.95 477.44" stroke="#0000ff" stroke-width="0.7" fill="none"/>
<path d="M704.45 475.59L706.15 478.29L702.75 478.29Z" fill="#0000ff"/>
<path d="M715.79 478.87L715.79 479.17M712.29 478.87L719.29 478.87M712.29 479.17L719.29 479.17" stroke="#0000ff" stroke-width="0.7" fill="none"/>
<path d="M715.79 477.32L717.49 480.02L714.09 480.02Z" fill="#0000ff"/>
<path d="M727.12 480.47L727.12 480.77M723.62 480.47L730.62 480.47M723.62 480.77L730.62 480.77" stroke="#0000ff" stroke-width="0.7" fill="none"/>
<path d="M727.12 478.92L728.83 481.62L725.42 481.62Z" fill="#0000ff"/>
<path d="M738.46 481.33L738.46 481.63M734.96 481.33L741.96 481.33M734.96 481.63L741.96 481.63" stroke="#0000ff" stroke-width="0.7" fill="none"/>
<path d="M738.46 479.78L740.16 482.48L736.76 482.48Z" fill="#0000ff"/>
<path d="M749.80 482.38L749.80 482.68M746.30 482.38L753.30 482.38M746.30 482.68L753.30 482.68" stroke="#0000ff" stroke-width="0.7" fill="none"/>
<path d="M749.80 480.83L751.50 483.53L748.10 483.53Z" fill="#0000ff"/>
<polyline points="114.90,27.90 126.24,28.36 137.58,28.81 148.91,29.27 160.25,29.72 171.59,30.18 182.93,30.86 194.26,31.55 205.60,32.46 216.94,33.83 228.28,35.65 239.61,37.48 250.95,39.30 262.29,41.58 273.62,45.00 284.96,47.96 296.30,51.61 307.64,55.72 318.98,61.19 330.31,66.66 341.65,73.04 352.99,81.25 364.32,89.46 375.66,99.49 387.00,109.98 398.34,120.47 409.67,131.87 421.01,146.46 432.35,159.00 443.69,176.10 455.02,191.01 466.36,207.56 477.70,224.62 489.04,240.85 500.38,257.91 511.71,272.59 523.05,291.60 534.39,309.62 545.73,326.40 557.06,339.99 568.40,356.68 579.74,372.82 591.08,385.54 602.41,396.99 613.75,409.71 625.09,419.74 636.42,431.14 647.76,438.76 659.10,446.28 670.44,452.98 681.77,458.09 693.11,463.38 704.45,467.21 715.79,470.68 727.12,472.96 738.46,475.78 749.80,477.06" fill="none" stroke="#ff00ff" stroke-width="0.95" stroke-dasharray="1.2 1.5"/>
<path d="M114.90 27.75L114.90 28.05M111.40 27.75L118.40 27.75M111.40 28.05L118.40 28.05" stroke="#ff00ff" stroke-width="0.7" fill="none"/>
<rect x="112.90" y="25.90" width="4.0" height="4.0" fill="none" stroke="#ff00ff" stroke-width="0.6"/>
<path d="M126.24 28.21L126.24 28.51M122.74 28.21L129.74 28.21M122.74 28.51L129.74 28.51" stroke="#ff00ff" stroke-width="0.7" fill="none"/>
<rect x="124.24" y="26.36" width="4.0" height="4.0" fill="none" stroke="#ff00ff" stroke-width="0.6"/>
<path d="M137.58 28.66L137.58 28.96M134.08 28.66L141.08 28.66M134.08 28.96L141.08 28.96" stroke="#ff00ff" stroke-width="0.7" fill="none"/>
<rect x="135.58" y="26.81" width="4.0" height="4.0" fill="none" stroke="#ff00ff" stroke-width="0.6"/>
<path d="M148.91 29.12L148.91 29.42M145.41 29.12L152.41 29.12M145.41 29.42L152.41 29.42" stroke="#ff00ff" stroke-width="0.7" fill="none"/>
<rect x="146.91" y="27.27" width="4.0" height="4.0" fill="none" stroke="#ff00ff" stroke-width="0.6"/>
<path d="M160.25 29.57L160.25 29.87M156.75 29.57L163.75 29.57M156.75 29.87L163.75 29.87" stroke="#ff00ff" stroke-width="0.7" fill="none"/>
<rect x="158.25" y="27.72" width="4.0" height="4.0" fill="none" stroke="#ff00ff" stroke-width="0.6"/>
<path d="M171.59 30.03L171.59 30.33M168.09 30.03L175.09 30.03M168.09 30.33L175.09 30.33" stroke="#ff00ff" stroke-width="0.7" fill="none"/>
<rect x="169.59" y="28.18" width="4.0" height="4.0" fill="none" stroke="#ff00ff" stroke-width="0.6"/>
<path d="M182.93 30.71L182.93 31.01M179.43 30.71L186.43 30.71M179.43 31.01L186.43 31.01" stroke="#ff00ff" stroke-width="0.7" fill="none"/>
<rect x="180.93" y="28.86" width="4.0" height="4.0" fill="none" stroke="#ff00ff" stroke-width="0.6"/>
<path d="M194.26 31.40L194.26 31.70M190.76 31.40L197.76 31.40M190.76 31.70L197.76 31.70" stroke="#ff00ff" stroke-width="0.7" fill="none"/>
<rect x="192.26" y="29.55" width="4.0" height="4.0" fill="none" stroke="#ff00ff" stroke-width="0.6"/>
<path d="M205.60 32.31L205.60 32.61M202.10 32.31L209.10 32.31M202.10 32.61L209.10 32.61" stroke="#ff00ff" stroke-width="0.7" fill="none"/>
<rect x="203.60" y="30.46" width="4.0" height="4.0" fill="none" stroke="#ff00ff" stroke-width="0.6"/>
<path d="M216.94 33.68L216.94 33.98M213.44 33.68L220.44 33.68M213.44 33.98L220.44 33.98" stroke="#ff00ff" stroke-width="0.7" fill="none"/>
<rect x="214.94" y="31.83" width="4.0" height="4.0" fill="none" stroke="#ff00ff" stroke-width="0.6"/>
<path d="M228.28 35.50L228.28 35.80M224.78 35.50L231.78 35.50M224.78 35.80L231.78 35.80" stroke="#ff00ff" stroke-width="0.7" fill="none"/>
<rect x="226.28" y="33.65" width="4.0" height="4.0" fill="none" stroke="#ff00ff" stroke-width="0.6"/>
<path d="M239.61 37.32L239.61 37.63M236.11 37.32L243.11 37.32M236.11 37.63L243.11 37.63" stroke="#ff00ff" stroke-width="0.7" fill="none"/>
<rect x="237.61" y="35.48" width="4.0" height="4.0" fill="none" stroke="#ff00ff" stroke-width="0.6"/>
<path d="M250.95 39.15L250.95 39.45M247.45 39.15L254.45 39.15M247.45 39.45L254.45 39.45" stroke="#ff00ff" stroke-width="0.7" fill="none"/>
<rect x="248.95" y="37.30" width="4.0" height="4.0" fill="none" stroke="#ff00ff" stroke-width="0.6"/>
<path d="M262.29 41.43L262.29 41.73M258.79 41.43L265.79 41.43M258.79 41.73L265.79 41.73" stroke="#ff00ff" stroke-width="0.7" fill="none"/>
<rect x="260.29" y="39.58" width="4.0" height="4.0" fill="none" stroke="#ff00ff" stroke-width="0.6"/>
<path d="M273.62 44.84L273.62 45.16M270.12 44.84L277.12 44.84M270.12 45.16L277.12 45.16" stroke="#ff00ff" stroke-width="0.7" fill="none"/>
<rect x="271.62" y="43.00" width="4.0" height="4.0" fill="none" stroke="#ff00ff" stroke-width="0.6"/>
<path d="M284.96 47.80L284.96 48.13M281.46 47.80L288.46 47.80M281.46 48.13L288.46 48.13" stroke="#ff00ff" stroke-width="0.7" fill="none"/>
<rect x="282.96" y="45.96" width="4.0" height="4.0" fill="none" stroke="#ff00ff" stroke-width="0.6"/>
<path d="M296.30 51.44L296.30 51.78M292.80 51.44L299.80 51.44M292.80 51.78L299.80 51.78" stroke="#ff00ff" stroke-width="0.7" fill="none"/>
<rect x="294.30" y="49.61" width="4.0" height="4.0" fill="none" stroke="#ff00ff" stroke-width="0.6"/>
<path d="M307.64 55.54L307.64 55.89M304.14 55.54L311.14 55.54M304.14 55.89L311.14 55.89" stroke="#ff00ff" stroke-width="0.7" fill="none"/>
<rect x="305.64" y="53.72" width="4.0" height="4.0" fill="none" stroke="#ff00ff" stroke-width="0.6"/>
<path d="M318.98 61.00L318.98 61.38M315.48 61.00L322.48 61.00M315.48 61.38L322.48 61.38" stroke="#ff00ff" stroke-width="0.7" fill="none"/>
<rect x="316.98" y="59.19" width="4.0" height="4.0" fill="none" stroke="#ff00ff" stroke-width="0.6"/>
<path d="M330.31 66.46L330.31 66.86M326.81 66.46L333.81 66.46M326.81 66.86L333.81 66.86" stroke="#ff00ff" stroke-width="0.7" fill="none"/>
<rect x="328.31" y="64.66" width="4.0" height="4.0" fill="none" stroke="#ff00ff" stroke-width="0.6"/>
<path d="M341.65 72.82L341.65 73.27M338.15 72.82L345.15 72.82M338.15 73.27L345.15 73.27" stroke="#ff00ff" stroke-width="0.7" fill="none"/>
<rect x="339.65" y="71.04" width="4.0" height="4.0" fill="none" stroke="#ff00ff" stroke-width="0.6"/>
<path d="M352.99 80.99L352.99 81.51M349.49 80.99L356.49 80.99M349.49 81.51L356.49 81.51" stroke="#ff00ff" stroke-width="0.7" fill="none"/>
<rect x="350.99" y="79.25" width="4.0" height="4.0" fill="none" stroke="#ff00ff" stroke-width="0.6"/>
<path d="M364.32 89.16L364.32 89.76M360.82 89.16L367.82 89.16M360.82 89.76L367.82 89.76" stroke="#ff00ff" stroke-width="0.7" fill="none"/>
<rect x="362.32" y="87.46" width="4.0" height="4.0" fill="none" stroke="#ff00ff" stroke-width="0.6"/>
<path d="M375.66 99.14L375.66 99.85M372.16 99.14L379.16 99.14M372.16 99.85L379.16 99.85" stroke="#ff00ff" stroke-width="0.7" fill="none"/>
<rect x="373.66" y="97.49" width="4.0" height="4.0" fill="none" stroke="#ff00ff" stroke-width="0.6"/>
<path d="M387.00 109.56L387.00 110.40M383.50 109.56L390.50 109.56M383.50 110.40L390.50 110.40" stroke="#ff00ff" stroke-width="0.7" fill="none"/>
<rect x="385.00" y="107.98" width="4.0" height="4.0" fill="none" stroke="#ff00ff" stroke-width="0.6"/>
<path d="M398.34 119.98L398.34 120.95M394.84 119.98L401.84 119.98M394.84 120.95L401.84 120.95" stroke="#ff00ff" stroke-width="0.7" fill="none"/>
<rect x="396.34" y="118.47" width="4.0" height="4.0" fill="none" stroke="#ff00ff" stroke-width="0.6"/>
<path d="M409.67 131.30L409.67 132.43M406.17 131.30L413.17 131.30M406.17 132.43L413.17 132.43" stroke="#ff00ff" stroke-width="0.7" fill="none"/>
<rect x="407.67" y="129.87" width="4.0" height="4.0" fill="none" stroke="#ff00ff" stroke-width="0.6"/>
<path d="M421.01 145.79L421.01 147.13M417.51 145.79L424.51 145.79M417.51 147.13L424.51 147.13" stroke="#ff00ff" stroke-width="0.7" fill="none"/>
<rect x="419.01" y="144.46" width="4.0" height="4.0" fill="none" stroke="#ff00ff" stroke-width="0.6"/>
<path d="M432.35 158.24L432.35 159.76M428.85 158.24L435.85 158.24M428.85 159.76L435.85 159.76" stroke="#ff00ff" stroke-width="0.7" fill="none"/>
<rect x="430.35" y="157.00" width="4.0" height="4.0" fill="none" stroke="#ff00ff" stroke-width="0.6"/>
<path d="M443.69 175.23L443.69 176.97M440.19 175.23L447.19 175.23M440.19 176.97L447.19 176.97" stroke="#ff00ff" stroke-width="0.7" fill="none"/>
<rect x="441.69" y="174.10" width="4.0" height="4.0" fill="none" stroke="#ff00ff" stroke-width="0.6"/>
<path d="M455.02 190.05L455.02 191.97M451.52 190.05L458.52 190.05M451.52 191.97L458.52 191.97" stroke="#ff00ff" stroke-width="0.7" fill="none"/>
<rect x="453.02" y="189.01" width="4.0" height="4.0" fill="none" stroke="#ff00ff" stroke-width="0.6"/>
<path d="M466.36 206.52L466.36 208.61M462.86 206.52L469.86 206.52M462.86 208.61L469.86 208.61" stroke="#ff00ff" stroke-width="0.7" fill="none"/>
<rect x="464.36" y="205.56" width="4.0" height="4.0" fill="none" stroke="#ff00ff" stroke-width="0.6"/>
<path d="M477.70 223.51L477.70 225.72M474.20 223.51L481.20 223.51M474.20 225.72L481.20 225.72" stroke="#ff00ff" stroke-width="0.7" fill="none"/>
<rect x="475.70" y="222.62" width="4.0" height="4.0" fill="none" stroke="#ff00ff" stroke-width="0.6"/>
<path d="M489.04 239.71L489.04 241.99M485.54 239.71L492.54 239.71M485.54 241.99L492.54 241.99" stroke="#ff00ff" stroke-width="0.7" fill="none"/>
<rect x="487.04" y="238.85" width="4.0" height="4.0" fill="none" stroke="#ff00ff" stroke-width="0.6"/>
<path d="M500.38 256.76L500.38 259.06M496.88 256.76L503.88 256.76M496.88 259.06L503.88 259.06" stroke="#ff00ff" stroke-width="0.7" fill="none"/>
<rect x="498.38" y="255.91" width="4.0" height="4.0" fill="none" stroke="#ff00ff" stroke-width="0.6"/>
<path d="M511.71 271.45L511.71 273.73M508.21 271.45L515.21 271.45M508.21 273.73L515.21 273.73" stroke="#ff00ff" stroke-width="0.7" fill="none"/>
<rect x="509.71" y="270.59" width="4.0" height="4.0" fill="none" stroke="#ff00ff" stroke-width="0.6"/>
<path d="M523.05 290.51L523.05 292.69M519.55 290.51L526.55 290.51M519.55 292.69L526.55 292.69" stroke="#ff00ff" stroke-width="0.7" fill="none"/>
<rect x="521.05" y="289.60" width="4.0" height="4.0" fill="none" stroke="#ff00ff" stroke-width="0.6"/>
<path d="M534.39 308.60L534.39 310.63M530.89 308.60L537.89 308.60M530.89 310.63L537.89 310.63" stroke="#ff00ff" stroke-width="0.7" fill="none"/>
<rect x="532.39" y="307.62" width="4.0" height="4.0" fill="none" stroke="#ff00ff" stroke-width="0.6"/>
<path d="M545.73 325.47L545.73 327.33M542.23 325.47L549.23 325.47M542.23 327.33L549.23 327.33" stroke="#ff00ff" stroke-width="0.7" fill="none"/>
<rect x="543.73" y="324.40" width="4.0" height="4.0" fill="none" stroke="#ff00ff" stroke-width="0.6"/>
<path d="M557.06 339.14L557.06 340.83M553.56 339.14L560.56 339.14M553.56 340.83L560.56 340.83" stroke="#ff00ff" stroke-width="0.7" fill="none"/>
<rect x="555.06" y="337.99" width="4.0" height="4.0" fill="none" stroke="#ff00ff" stroke-width="0.6"/>
<path d="M568.40 355.95L568.40 357.41M564.90 355.95L571.90 355.95M564.90 357.41L571.90 357.41" stroke="#ff00ff" stroke-width="0.7" fill="none"/>
<rect x="566.40" y="354.68" width="4.0" height="4.0" fill="none" stroke="#ff00ff" stroke-width="0.6"/>
<path d="M579.74 372.20L579.74 373.43M576.24 372.20L583.24 372.20M576.24 373.43L583.24 373.43" stroke="#ff00ff" stroke-width="0.7" fill="none"/>
<rect x="577.74" y="370.82" width="4.0" height="4.0" fill="none" stroke="#ff00ff" stroke-width="0.6"/>
<path d="M591.08 385.01L591.08 386.07M587.58 385.01L594.58 385.01M587.58 386.07L594.58 386.07" stroke="#ff00ff" stroke-width="0.7" fill="none"/>
<rect x="589.08" y="383.54" width="4.0" height="4.0" fill="none" stroke="#ff00ff" stroke-width="0.6"/>
<path d="M602.41 396.54L602.41 397.44M598.91 396.54L605.91 396.54M598.91 397.44L605.91 397.44" stroke="#ff00ff" stroke-width="0.7" fill="none"/>
<rect x="600.41" y="394.99" width="4.0" height="4.0" fill="none" stroke="#ff00ff" stroke-width="0.6"/>
<path d="M613.75 409.34L613.75 410.08M610.25 409.34L617.25 409.34M610.25 410.08L617.25 410.08" stroke="#ff00ff" stroke-width="0.7" fill="none"/>
<rect x="611.75" y="407.71" width="4.0" height="4.0" fill="none" stroke="#ff00ff" stroke-width="0.6"/>
<path d="M625.09 419.43L625.09 420.05M621.59 419.43L628.59 419.43M621.59 420.05L628.59 420.05" stroke="#ff00ff" stroke-width="0.7" fill="none"/>
<rect x="623.09" y="417.74" width="4.0" height="4.0" fill="none" stroke="#ff00ff" stroke-width="0.6"/>
<path d="M636.42 430.88L636.42 431.40M632.92 430.88L639.92 430.88M632.92 431.40L639.92 431.40" stroke="#ff00ff" stroke-width="0.7" fill="none"/>
<rect x="634.42" y="429.14" width="4.0" height="4.0" fill="none" stroke="#ff00ff" stroke-width="0.6"/>
<path d="M647.76 438.53L647.76 438.98M644.26 438.53L651.26 438.53M644.26 438.98L651.26 438.98" stroke="#ff00ff" stroke-width="0.7" fill="none"/>
<rect x="645.76" y="436.76" width="4.0" height="4.0" fill="none" stroke="#ff00ff" stroke-width="0.6"/>
<path d="M659.10 446.08L659.10 446.48M655.60 446.08L662.60 446.08M655.60 446.48L662.60 446.48" stroke="#ff00ff" stroke-width="0.7" fill="none"/>
<rect x="657.10" y="444.28" width="4.0" height="4.0" fill="none" stroke="#ff00ff" stroke-width="0.6"/>
<path d="M670.44 452.80L670.44 453.17M666.94 452.80L673.94 452.80M666.94 453.17L673.94 453.17" stroke="#ff00ff" stroke-width="0.7" fill="none"/>
<rect x="668.44" y="450.98" width="4.0" height="4.0" fill="none" stroke="#ff00ff" stroke-width="0.6"/>
<path d="M681.77 457.92L681.77 458.26M678.27 457.92L685.27 457.92M678.27 458.26L685.27 458.26" stroke="#ff00ff" stroke-width="0.7" fill="none"/>
<rect x="679.77" y="456.09" width="4.0" height="4.0" fill="none" stroke="#ff00ff" stroke-width="0.6"/>
<path d="M693.11 463.22L693.11 463.54M689.61 463.22L696.61 463.22M689.61 463.54L696.61 463.54" stroke="#ff00ff" stroke-width="0.7" fill="none"/>
<rect x="691.11" y="461.38" width="4.0" height="4.0" fill="none" stroke="#ff00ff" stroke-width="0.6"/>
<path d="M704.45 467.05L704.45 467.37M700.95 467.05L707.95 467.05M700.95 467.37L707.95 467.37" stroke="#ff00ff" stroke-width="0.7" fill="none"/>
<rect x="702.45" y="465.21" width="4.0" height="4.0" fill="none" stroke="#ff00ff" stroke-width="0.6"/>
<path d="M715.79 470.52L715.79 470.83M712.29 470.52L719.29 470.52M712.29 470.83L719.29 470.83" stroke="#ff00ff" stroke-width="0.7" fill="none"/>
<rect x="713.79" y="468.68" width="4.0" height="4.0" fill="none" stroke="#ff00ff" stroke-width="0.6"/>
<path d="M727.12 472.80L727.12 473.11M723.62 472.80L730.62 472.80M723.62 473.11L730.62 473.11" stroke="#ff00ff" stroke-width="0.7" fill="none"/>
<rect x="725.12" y="470.96" width="4.0" height="4.0" fill="none" stroke="#ff00ff" stroke-width="0.6"/>
<path d="M738.46 475.63L738.46 475.93M734.96 475.63L741.96 475.63M734.96 475.93L741.96 475.93" stroke="#ff00ff" stroke-width="0.7" fill="none"/>
<rect x="736.46" y="473.78" width="4.0" height="4.0" fill="none" stroke="#ff00ff" stroke-width="0.6"/>
<path d="M749.80 476.91L749.80 477.21M746.30 476.91L753.30 476.91M746.30 477.21L753.30 477.21" stroke="#ff00ff" stroke-width="0.7" fill="none"/>
<rect x="747.80" y="475.06" width="4.0" height="4.0" fill="none" stroke="#ff00ff" stroke-width="0.6"/>
<rect x="114.9" y="27.9" width="634.90" height="456.00" fill="none" stroke="#262626" stroke-width="1.6"/>
<path d="M114.9 438.30h6.8M749.8 438.30h-6.8M114.9 392.70h6.8M749.8 392.70h-6.8M114.9 347.10h6.8M749.8 347.10h-6.8M114.9 301.50h6.8M749.8 301.50h-6.8M114.9 255.90h6.8M749.8 255.90h-6.8M114.9 210.30h6.8M749.8 210.30h-6.8M114.9 164.70h6.8M749.8 164.70h-6.8M114.9 119.10h6.8M749.8 119.10h-6.8M114.9 73.50h6.8M749.8 73.50h-6.8M182.93 483.9v-6.8M182.93 27.9v6.8M296.30 483.9v-6.8M296.30 27.9v6.8M409.67 483.9v-6.8M409.67 27.9v6.8M523.05 483.9v-6.8M523.05 27.9v6.8M636.42 483.9v-6.8M636.42 27.9v6.8" stroke="#000" stroke-width="1.2" fill="none"/>
</svg></body></html>
